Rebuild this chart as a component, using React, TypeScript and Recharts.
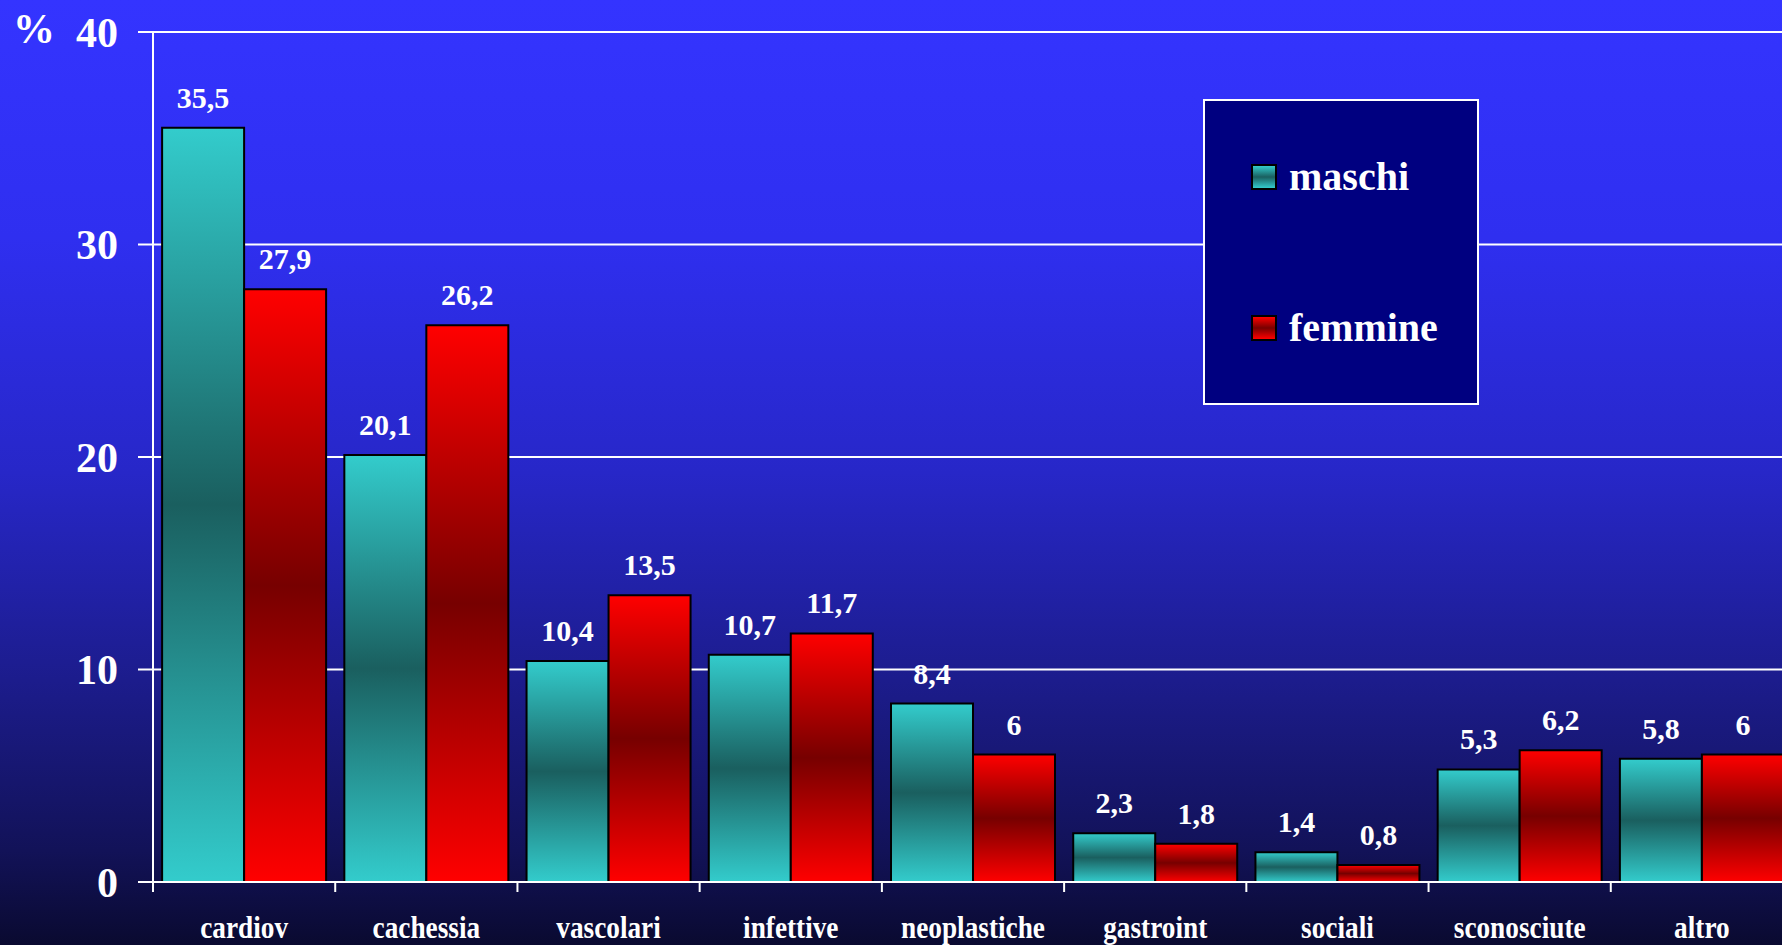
import { BarChart, Bar, XAxis, YAxis, CartesianGrid, Legend, LabelList, Label } from 'recharts';

const categories = ['cardiov', 'cachessia', 'vascolari', 'infettive', 'neoplastiche', 'gastroint', 'sociali', 'sconosciute', 'altro'];
const maschi = [35.5, 20.1, 10.4, 10.7, 8.4, 2.3, 1.4, 5.3, 5.8];
const femmine = [27.9, 26.2, 13.5, 11.7, 6, 1.8, 0.8, 6.2, 6];
const yTicks = [0, 10, 20, 30, 40];

const data = categories.map((name, i) => ({ name, maschi: maschi[i], femmine: femmine[i] }));

const W = 1800;
const H = 945;
const AXIS_W = 153;
const RIGHT = 7;
const band = (W - AXIS_W - RIGHT) / categories.length;
const font = '"Liberation Serif", "Times New Roman", serif';

const fmt = (v: any) => String(v).replace('.', ',');

const CategoryTick = (props: any) => {
  const { x, y, payload } = props;
  return (
    <g transform={`translate(${x},${y})`}>
      <line x1={-band / 2} x2={-band / 2} y1={0} y2={10} stroke="#fff" strokeWidth={2} />
      <text
        x={0}
        y={56}
        textAnchor="middle"
        fill="#fff"
        fontFamily={font}
        fontWeight="bold"
        fontSize={31}
        transform="scale(0.88,1)"
      >
        {payload.value}
      </text>
    </g>
  );
};

const LegendBox = () => {
  const item = (top: number, label: string, grad: string) => (
    <div style={{ position: 'absolute', left: 46, top, display: 'flex', alignItems: 'center' }}>
      <div style={{ width: 22, height: 22, border: '2px solid #000', background: grad }} />
      <span style={{ marginLeft: 12, color: '#fff', fontFamily: font, fontWeight: 'bold', fontSize: 40, lineHeight: '40px' }}>
        {label}
      </span>
    </div>
  );
  return (
    <div style={{ position: 'relative', width: 272, height: 302, background: '#000080', border: '2px solid #fff' }}>
      {item(56, 'maschi', 'linear-gradient(#33cccc, #1a5f5f 50%, #33cccc)')}
      {item(207, 'femmine', 'linear-gradient(#ff0000, #770000 50%, #ff0000)')}
    </div>
  );
};

export default function App() {
  return (
    <div
      style={{
        position: 'absolute',
        left: 0,
        top: 0,
        width: 1782,
        height: 945,
        overflow: 'hidden',
        background: 'linear-gradient(#3434ff 0%, #2f2ff0 25%, #2727c8 50%, #1c1c8c 72%, #121258 90%, #0a0a30 100%)',
      }}
    >
      <BarChart
        width={W}
        height={H}
        data={data}
        margin={{ top: 32, right: RIGHT, left: 0, bottom: 0 }}
        barCategoryGap="5%"
        barGap={0}
      >
        <defs>
          <linearGradient id="gradM" x1="0" y1="0" x2="0" y2="1">
            <stop offset="0%" stopColor="#33cccc" />
            <stop offset="50%" stopColor="#1a5f5f" />
            <stop offset="100%" stopColor="#33cccc" />
          </linearGradient>
          <linearGradient id="gradF" x1="0" y1="0" x2="0" y2="1">
            <stop offset="0%" stopColor="#ff0000" />
            <stop offset="50%" stopColor="#770000" />
            <stop offset="100%" stopColor="#ff0000" />
          </linearGradient>
        </defs>
        <CartesianGrid vertical={false} stroke="#fff" strokeWidth={2} />
        <XAxis
          dataKey="name"
          height={63}
          tickSize={0}
          tickMargin={0}
          tickLine={false}
          axisLine={{ stroke: '#fff', strokeWidth: 2 }}
          tick={<CategoryTick />}
          interval={0}
        />
        <YAxis
          width={AXIS_W}
          domain={[0, 40]}
          ticks={yTicks}
          tickSize={15}
          tickMargin={20}
          axisLine={{ stroke: '#fff', strokeWidth: 2 }}
          tickLine={{ stroke: '#fff', strokeWidth: 2 }}
          tick={{ fill: '#fff', fontSize: 42, fontWeight: 'bold', fontFamily: font }}
        >
          <Label
            content={(p: any) => (
              <text
                x={p.viewBox.x + 13}
                y={p.viewBox.y + 11}
                fill="#fff"
                fontFamily={font}
                fontWeight="bold"
                fontSize={42}
              >
                %
              </text>
            )}
          />
        </YAxis>
        <Legend
          layout="vertical"
          align="center"
          verticalAlign="middle"
          content={<LegendBox />}
          wrapperStyle={{ position: 'absolute', left: 1203, top: 99, width: 276, height: 306 }}
        />
        <Bar dataKey="maschi" fill="url(#gradM)" stroke="#000" strokeWidth={2} isAnimationActive={false}>
          <LabelList dataKey="maschi" position="top" offset={20} formatter={fmt} fill="#fff" fontSize={30} fontWeight="bold" fontFamily={font} />
        </Bar>
        <Bar dataKey="femmine" fill="url(#gradF)" stroke="#000" strokeWidth={2} isAnimationActive={false}>
          <LabelList dataKey="femmine" position="top" offset={20} formatter={fmt} fill="#fff" fontSize={30} fontWeight="bold" fontFamily={font} />
        </Bar>
      </BarChart>
    </div>
  );
}
